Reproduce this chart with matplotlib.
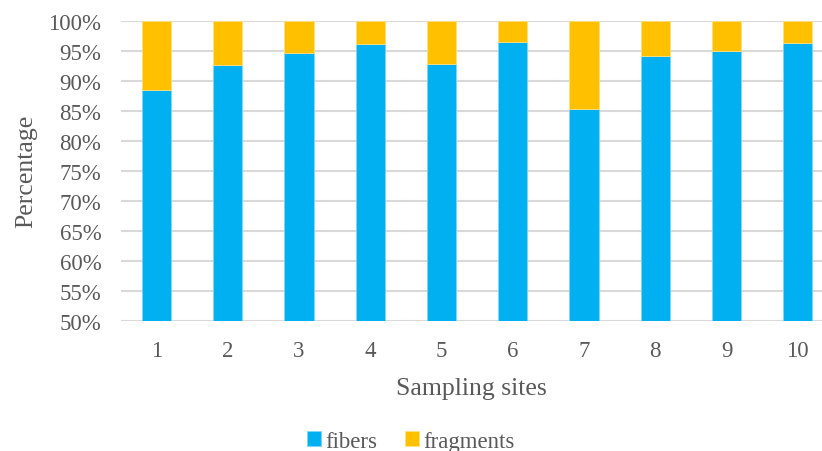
import numpy as np
import matplotlib.pyplot as plt
from matplotlib.ticker import PercentFormatter

sites = ['1', '2', '3', '4', '5', '6', '7', '8', '9', '10']
fibers = [88.5, 92.7, 94.7, 96.1, 92.8, 96.4, 85.3, 94.1, 95.0, 96.3]
fragments = [100 - v for v in fibers]

plt.rcParams['font.family'] = ['Liberation Serif', 'DejaVu Serif']
grey = '#595959'

fig = plt.figure(figsize=(8.22, 4.52), dpi=100)
ax = fig.add_axes([0.147, 0.288, 0.853, 0.664])

x = np.arange(1, len(sites) + 1)
w = 0.41
ax.bar(x, fibers, w, color='#00B0F0', edgecolor='#7fd7f7', linewidth=0.6, label='fibers', zorder=3)
ax.bar(x, fragments, w, bottom=fibers, color='#FFC000', edgecolor='#ffdf80', linewidth=0.6,
       label='fragments', zorder=3)

ax.set_ylim(50, 100)
ax.set_xlim(0.5, 10.34)
ax.set_yticks(np.arange(50, 101, 5))
ax.yaxis.set_major_formatter(PercentFormatter(decimals=0))
ax.set_xticks(x)
ax.set_xticklabels(sites)
ax.grid(axis='y', color='#d9d9d9', linewidth=1.5, zorder=0)
ax.set_axisbelow(True)
for s in ax.spines.values():
    s.set_visible(False)
ax.tick_params(length=0, labelsize=16.5, colors=grey)
ax.tick_params(axis='x', pad=14)
ax.tick_params(axis='y', pad=14)

ax.set_xlabel('Sampling sites', fontsize=18.5, color=grey, labelpad=11)
ax.set_ylabel('Percentage', fontsize=18.5, color=grey, labelpad=8)

fig.legend(loc='lower center', bbox_to_anchor=(0.5, -0.047), ncol=2, frameon=False,
           fontsize=16.5, labelcolor=grey, handlelength=0.6, handleheight=0.6,
           handletextpad=0.2, columnspacing=1.2)

fig.savefig('out.png', dpi=100)
